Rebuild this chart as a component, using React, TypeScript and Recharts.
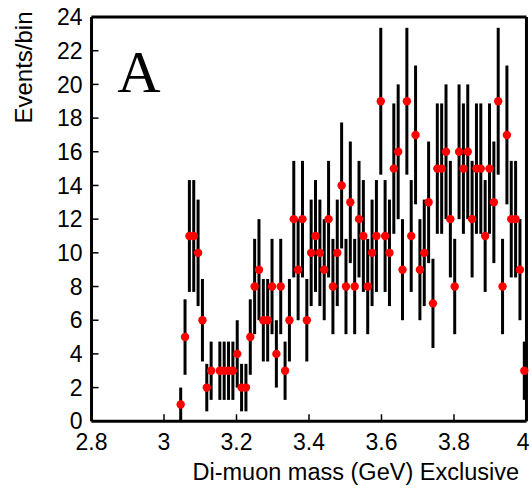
import React from 'react';
import { ComposedChart, Scatter, XAxis, YAxis, ErrorBar, Customized } from 'recharts';

// Bin centres (GeV) of the non-empty bins
const binCenters = [
  3.046, 3.058, 3.070, 3.082, 3.094, 3.106, 3.118, 3.130, 3.154, 3.166,
  3.178, 3.190, 3.202, 3.214, 3.226, 3.238, 3.250, 3.262, 3.274, 3.286,
  3.298, 3.310, 3.322, 3.334, 3.346, 3.358, 3.370, 3.382, 3.394, 3.406,
  3.418, 3.430, 3.442, 3.454, 3.466, 3.478, 3.490, 3.502, 3.514, 3.526,
  3.538, 3.550, 3.562, 3.574, 3.586, 3.598, 3.610, 3.622, 3.634, 3.646,
  3.658, 3.670, 3.682, 3.694, 3.706, 3.718, 3.730, 3.742, 3.754, 3.766,
  3.778, 3.790, 3.802, 3.814, 3.826, 3.838, 3.850, 3.862, 3.874, 3.886,
  3.898, 3.910, 3.922, 3.934, 3.946, 3.958, 3.970, 3.982, 3.994,
];

// Events per bin
const counts = [
  1, 5, 11, 11, 10, 6, 2, 3, 3, 3,
  3, 3, 4, 2, 2, 5, 8, 9, 6, 6,
  8, 4, 8, 3, 6, 12, 9, 12, 6, 10,
  11, 10, 9, 12, 8, 10, 14, 8, 13, 8,
  12, 11, 8, 10, 11, 19, 11, 10, 15, 16,
  9, 19, 11, 17, 9, 10, 13, 7, 15, 15,
  16, 12, 8, 16, 15, 16, 12, 15, 15, 11,
  15, 13, 19, 8, 17, 12, 12, 9, 3,
];

// Half-length of each error bar
const errors = [
  1.0, 2.24, 3.32, 3.32, 3.16, 2.45, 1.41, 1.73, 1.73, 1.73,
  1.73, 1.73, 2.0, 1.41, 1.41, 2.24, 2.83, 3.0, 2.45, 2.45,
  2.83, 2.0, 2.83, 1.73, 2.45, 3.46, 3.0, 3.46, 2.45, 3.16,
  3.32, 3.16, 3.0, 3.46, 2.83, 3.16, 3.74, 2.83, 3.61, 2.83,
  3.46, 3.32, 2.83, 3.16, 3.32, 4.36, 3.32, 3.16, 3.87, 4.0,
  3.0, 4.36, 3.32, 4.12, 3.0, 3.16, 3.61, 2.65, 3.87, 3.87,
  4.0, 3.46, 2.83, 4.0, 3.87, 4.0, 3.46, 3.87, 3.87, 3.32,
  3.87, 3.61, 4.36, 2.83, 4.12, 3.46, 3.46, 3.0, 1.73,
];

const xMajorTicks = [2.8, 3.0, 3.2, 3.4, 3.6, 3.8, 4.0];
const xTickLabels = ['2.8', '3', '3.2', '3.4', '3.6', '3.8', '4'];
const xMinorTicks = [2.85, 2.9, 2.95, 3.05, 3.1, 3.15, 3.25, 3.3, 3.35, 3.45, 3.5, 3.55, 3.65, 3.7, 3.75, 3.85, 3.9, 3.95];
const yMajorTicks = [0, 2, 4, 6, 8, 10, 12, 14, 16, 18, 20, 22, 24];
const yMinorTicks = [
  0.5, 1, 1.5, 2.5, 3, 3.5, 4.5, 5, 5.5, 6.5, 7, 7.5, 8.5, 9, 9.5, 10.5, 11, 11.5,
  12.5, 13, 13.5, 14.5, 15, 15.5, 16.5, 17, 17.5, 18.5, 19, 19.5, 20.5, 21, 21.5, 22.5, 23, 23.5,
];

const data = binCenters.map((m, i) => ({ mass: m, count: counts[i], err: errors[i] }));

const SANS = '"Liberation Sans", Arial, Helvetica, sans-serif';
const SERIF = '"Liberation Serif", "Times New Roman", serif';
const AXIS = { stroke: '#000', strokeWidth: 3 };
const TL = { stroke: '#000', strokeWidth: 1.5 };
const TICKFONT = { fontFamily: SANS, fontSize: 23, fill: '#000' };
const THIN = 0.01;

const xLabelOf = (v: number) => {
  const i = xMajorTicks.findIndex((t) => Math.abs(t - v) < 1e-6);
  return i >= 0 ? xTickLabels[i] : String(v);
};

// x tick label; keeps the last label inside the picture
const XTick = (p: any) => {
  const label = xLabelOf(p.payload.value);
  const w = label.length * 12.8;
  let x = p.x;
  if (x + w / 2 > 529.5) x = 529.5 - w / 2;
  return (
    <text x={x} y={p.y} dy="0.71em" textAnchor="middle" fontFamily={SANS} fontSize={23} fill="#000">
      {label}
    </text>
  );
};

const Texts = () => (
  <g>
    <text x={139} y={91.7} textAnchor="middle" fontFamily={SERIF} fontSize={60} fill="#000">A</text>
    <text transform="translate(32,67.5) rotate(-90)" textAnchor="middle" fontFamily={SANS} fontSize={24} fill="#000">Events/bin</text>
    <text x={519} y={480} textAnchor="end" fontFamily={SANS} fontSize={23.5} fill="#000">Di-muon mass (GeV) Exclusive</text>
  </g>
);

const Dot = (p: any) => <circle cx={p.cx} cy={p.cy} r={4.2} fill="#ff0000" />;

export default function App() {
  return (
    <div style={{ position: 'absolute', left: 0, top: 0, width: 531, height: 489, background: '#fff' }}>
      <ComposedChart width={531} height={489} data={data} margin={{ top: 17, right: 4.5, bottom: 67.7, left: 91.5 }}>
        <Scatter xAxisId="b" yAxisId="l" dataKey="count" data={data} isAnimationActive={false} shape={Dot}>
          <ErrorBar dataKey="err" direction="y" width={0} stroke="#000" strokeWidth={3} isAnimationActive={false} />
        </Scatter>
        <XAxis xAxisId="b" dataKey="mass" type="number" domain={[2.8, 4]} ticks={xMajorTicks} interval={0}
          orientation="bottom" height={THIN} tickSize={-7} tickMargin={19} axisLine={AXIS} tickLine={TL}
          tick={XTick} />
        <XAxis xAxisId="bm" dataKey="mass" type="number" domain={[2.8, 4]} ticks={xMinorTicks} interval={0}
          orientation="bottom" height={THIN} tickSize={-3.5} axisLine={false} tickLine={TL} tick={false} />
        <XAxis xAxisId="t" dataKey="mass" type="number" domain={[2.8, 4]} ticks={xMajorTicks} interval={0}
          orientation="top" height={THIN} tickSize={-7} axisLine={AXIS} tickLine={TL} tick={false} />
        <XAxis xAxisId="tm" dataKey="mass" type="number" domain={[2.8, 4]} ticks={xMinorTicks} interval={0}
          orientation="top" height={THIN} tickSize={-3.5} axisLine={false} tickLine={TL} tick={false} />
        <YAxis yAxisId="l" dataKey="count" type="number" domain={[0, 24]} ticks={yMajorTicks} interval={0}
          orientation="left" width={THIN} tickSize={-7} tickMargin={16} axisLine={AXIS} tickLine={TL} tick={TICKFONT} />
        <YAxis yAxisId="lm" type="number" domain={[0, 24]} ticks={yMinorTicks} interval={0}
          orientation="left" width={THIN} tickSize={-3.5} axisLine={false} tickLine={TL} tick={false} />
        <YAxis yAxisId="r" type="number" domain={[0, 24]} ticks={yMajorTicks} interval={0}
          orientation="right" width={THIN} tickSize={-7} axisLine={AXIS} tickLine={TL} tick={false} />
        <YAxis yAxisId="rm" type="number" domain={[0, 24]} ticks={yMinorTicks} interval={0}
          orientation="right" width={THIN} tickSize={-3.5} axisLine={false} tickLine={TL} tick={false} />
        <Customized component={Texts} />
      </ComposedChart>
    </div>
  );
}
